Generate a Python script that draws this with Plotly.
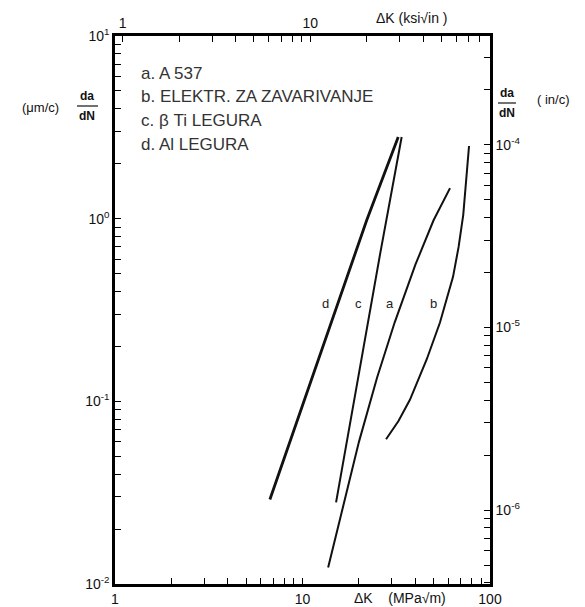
import numpy as np
import plotly.graph_objects as go

# unit conversions for the secondary (imperial) axes
KSI_TO_MPA = 1.0988      # 1 ksi*sqrt(in) in MPa*sqrt(m)
IN_TO_UM = 25400.0       # 1 in in micrometres

# curve data, dK in MPa*sqrt(m), da/dN in micrometres per cycle
a_dk = [13.7, 16.5, 20.0, 25.0, 31.0, 40.0, 50.0, 61.2]
a_rate = [0.0123, 0.027, 0.060, 0.135, 0.27, 0.56, 0.98, 1.47]

b_dk = [27.9, 32.5, 37.4, 46.0, 54.1, 58.8, 63.5, 68.0, 72.0, 77.3]
b_rate = [0.062, 0.078, 0.102, 0.17, 0.27, 0.36, 0.48, 0.70, 1.05, 2.5]

c_dk = [15.1, 18.3, 22.0, 26.0, 33.8]
c_rate = [0.028, 0.086, 0.25, 0.65, 2.8]

d_dk = [6.7, 9.7, 15.2, 22.0, 32.4]
d_rate = [0.029, 0.086, 0.33, 0.98, 2.8]

curve_names = ["d", "c", "a", "b"]
curve_label_dk = [13.2, 19.8, 29.3, 49.7]
curve_label_rate = 0.345

legend_lines = ["a. A 537", "b. ELEKTR. ZA ZAVARIVANJE", "c. \u03b2 Ti LEGURA", "d. Al LEGURA"]

y_ticks = [0.01, 0.1, 1, 10]
y_ticktext = ["10<sup>-2</sup>", "10<sup>-1</sup>", "10<sup>0</sup>", "10<sup>1</sup>"]
x_ticks = [1, 10, 100]
x_ticktext = ["1", "10", "100"]
x2_ticks = [1, 10]
x2_ticktext = ["1", "10"]
y2_ticks = [1e-6, 1e-5, 1e-4]
y2_ticktext = ["10<sup>-6</sup>", "10<sup>-5</sup>", "10<sup>-4</sup>"]

FONT = "Liberation Sans, Arial, sans-serif"

fig = go.Figure()
for dk, rate, w in [(a_dk, a_rate, 2), (b_dk, b_rate, 2), (c_dk, c_rate, 2), (d_dk, d_rate, 2.8)]:
    fig.add_trace(go.Scatter(x=dk, y=rate, mode="lines", line=dict(color="#111", width=w),
                             showlegend=False))

# invisible trace so the imperial axes get drawn
fig.add_trace(go.Scatter(x=[1, 10], y=[1e-6, 1e-5], xaxis="x2", yaxis="y2", mode="markers",
                         marker=dict(opacity=0), showlegend=False, hoverinfo="skip"))


def log_ticks(lo, hi, majors, labels):
    # every 1..9 multiple gets a tick, only the listed decades get a label
    vals, text = [], []
    for e in range(lo, hi + 1):
        for m in range(1, 10):
            v = m * 10.0 ** e
            vals.append(v)
            hit = [lab for mj, lab in zip(majors, labels) if abs(v / mj - 1) < 1e-9]
            text.append(hit[0] if hit else "")
    return dict(tickvals=vals, ticktext=text)


axis_common = dict(type="log", showline=True, linecolor="black", linewidth=2.5, showgrid=False,
                   zeroline=False, ticks="inside", ticklen=6, tickwidth=1.3, tickcolor="black",
                   automargin=False, tickfont=dict(family=FONT, size=14, color="#111"))

# page body adds an 8px offset, so the figure is 8px smaller than the window
fig.update_layout(
    width=577, height=599,
    margin=dict(l=107, r=95, t=28, b=23),
    paper_bgcolor="white", plot_bgcolor="white",
    xaxis=dict(range=[0, 2], **log_ticks(0, 2, x_ticks, x_ticktext), **axis_common),
    yaxis=dict(range=[-2, 1], **log_ticks(-2, 1, y_ticks, y_ticktext), **axis_common),
    xaxis2=dict(overlaying="x", side="top", anchor="y",
                range=[np.log10(1 / KSI_TO_MPA), np.log10(100 / KSI_TO_MPA)],
                **log_ticks(0, 1, x2_ticks, x2_ticktext), **axis_common),
    yaxis2=dict(overlaying="y", side="right", anchor="x",
                range=[np.log10(0.01 / IN_TO_UM), np.log10(10 / IN_TO_UM)],
                **log_ticks(-7, -4, y2_ticks, y2_ticktext), **axis_common),
)

# curve letters
for name, dk in zip(curve_names, curve_label_dk):
    fig.add_annotation(x=np.log10(dk), y=np.log10(curve_label_rate), xref="x", yref="y", text=name,
                       showarrow=False, font=dict(family=FONT, size=13, color="#222"))


def paper(px, py):
    return (px - 115) / 375, (584 - py) / 548


# legend block
for i, line in enumerate(legend_lines):
    x, y = paper(139, 73)
    fig.add_annotation(x=x, y=y, xref="paper", yref="paper", xanchor="left", yanchor="middle",
                       yshift=-23.7 * i, text=line, showarrow=False,
                       font=dict(family=FONT, size=17, color="#333"))


def txt(px, py, text, size=12, anchor="center"):
    x, y = paper(px, py)
    fig.add_annotation(x=x, y=y, xref="paper", yref="paper", text=text, showarrow=False,
                       xanchor=anchor, yanchor="middle", font=dict(family=FONT, size=size, color="#111"))


# left axis title: (um/c) da/dN
txt(40, 108, "(\u03bcm/c)", 13)
txt(87, 96, "<b>da</b>", 12)
txt(87, 116, "<b>dN</b>", 12)
x0, y0 = paper(77, 106)
x1, _ = paper(98, 106)
fig.add_shape(type="line", xref="paper", yref="paper", x0=x0, x1=x1, y0=y0, y1=y0,
              line=dict(color="#111", width=1.2))

# right axis title: da/dN (in/c)
txt(507, 93, "<b>da</b>", 12)
txt(507, 113, "<b>dN</b>", 12)
x0, y0 = paper(498, 103)
x1, _ = paper(516, 103)
fig.add_shape(type="line", xref="paper", yref="paper", x0=x0, x1=x1, y0=y0, y1=y0,
              line=dict(color="#111", width=1.2))
txt(553, 100, "( in/c)", 13)

# top and bottom axis titles
txt(411, 18, "\u0394K (ksi\u221ain )", 14)
txt(400, 598, "\u0394K    (MPa\u221am)", 14)

fig.write_html("out.html")
